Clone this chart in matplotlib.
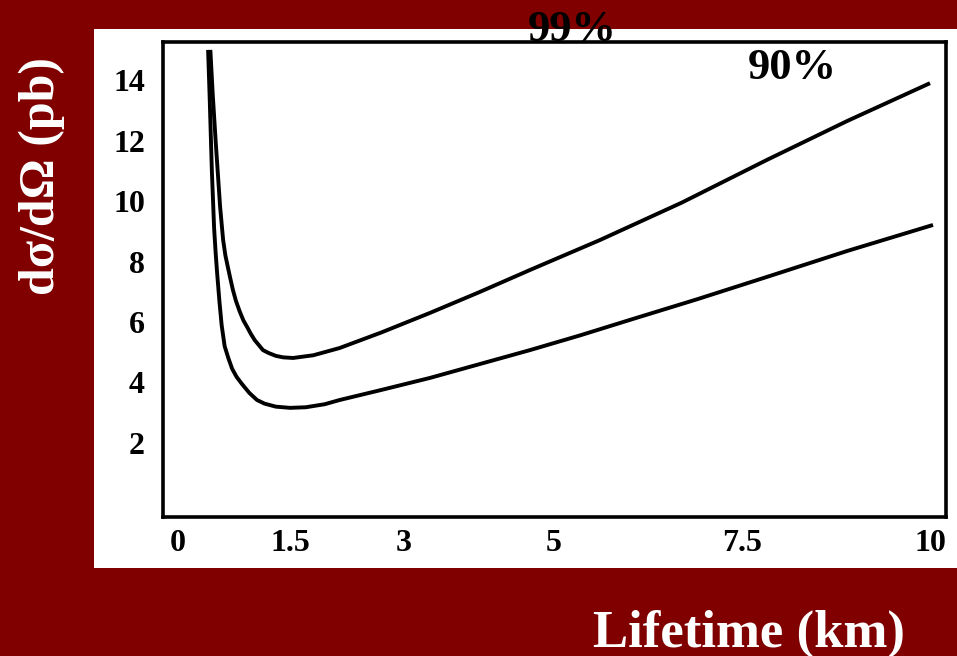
"""Lifetime dependence of the d(sigma)/d(Omega) limits at 90% and 99% CL."""

import matplotlib

matplotlib.use("Agg")
import matplotlib.pyplot as plt
from matplotlib.patches import Rectangle

# limit curves
lifetime_99 = [0.43, 0.46, 0.50, 0.53, 0.56, 0.60, 0.63, 0.69, 0.73, 0.77, 0.82, 0.87,
               0.92, 0.97, 1.02, 1.07, 1.13, 1.20, 1.30, 1.40, 1.53, 1.80, 2.15, 2.70,
               3.35, 4.00, 4.68, 5.61, 6.70, 7.83, 8.90, 10.0]
limit_99 = [15.0, 13.6, 12.0, 10.9, 9.8, 8.71, 8.2, 7.5, 7.06, 6.7, 6.35, 6.05,
            5.83, 5.6, 5.40, 5.25, 5.07, 4.98, 4.88, 4.83, 4.81, 4.90, 5.14, 5.65,
            6.30, 6.98, 7.72, 8.71, 9.95, 11.36, 12.65, 13.9]

lifetime_90 = [0.40, 0.42, 0.45, 0.48, 0.50, 0.52, 0.55, 0.58, 0.62, 0.67, 0.72, 0.78,
               0.85, 0.95, 1.05, 1.15, 1.30, 1.49, 1.70, 1.95, 2.15, 2.70, 3.35, 4.00,
               4.68, 5.35, 6.01, 6.90, 7.83, 8.90, 10.04]
limit_90 = [15.0, 13.5, 11.0, 9.1, 8.3, 7.62, 6.7, 5.9, 5.2, 4.8, 4.45, 4.18,
            3.95, 3.65, 3.42, 3.30, 3.20, 3.16, 3.18, 3.28, 3.42, 3.75, 4.15, 4.60,
            5.07, 5.56, 6.07, 6.75, 7.49, 8.35, 9.21]

x_ticks = [0, 1.5, 3, 5, 7.5, 10]
x_tick_labels = ["0", "1.5", "3", "5", "7.5", "10"]
y_ticks = [2, 4, 6, 8, 10, 12, 14]

BACKGROUND = "#800000"
SERIF = ["Liberation Serif", "DejaVu Serif"]

plt.rcParams["font.family"] = SERIF

fig = plt.figure(figsize=(9.57, 6.56), dpi=100, facecolor=BACKGROUND)

# white panel behind the plot
fig.patches.append(
    Rectangle((0.0982, 0.134), 0.902, 0.822, transform=fig.transFigure,
              facecolor="white", edgecolor="none", zorder=-1)
)

ax = fig.add_axes([0.1703, 0.2119, 0.818, 0.724], zorder=1)
ax.set_facecolor("white")
ax.plot(lifetime_99, limit_99, color="black", linewidth=2.8, solid_capstyle="butt")
ax.plot(lifetime_90, limit_90, color="black", linewidth=2.8, solid_capstyle="butt")

ax.set_xlim(-0.2, 10.21)
ax.set_ylim(-0.45, 15.26)
ax.set_xticks(x_ticks)
ax.set_xticklabels(x_tick_labels)
ax.set_yticks(y_ticks)
ax.tick_params(length=0, labelsize=23, pad=9)
ax.tick_params(axis="y", pad=13)
for label in ax.get_xticklabels() + ax.get_yticklabels():
    label.set_fontweight("bold")
for spine in ax.spines.values():
    spine.set_linewidth(2.6)
    spine.set_color("black")

fig.text(0.5977, 0.938, "99%", ha="center", va="baseline", fontsize=32,
         fontweight="bold", color="black", zorder=2)
fig.text(0.8276, 0.879, "90%", ha="center", va="baseline", fontsize=32,
         fontweight="bold", color="black", zorder=2)

fig.text(0.0439, 0.732, "dσ/dΩ (pb)", rotation=90, ha="center", va="center",
         fontsize=36, fontweight="bold", color="white")
fig.text(0.7826, 0.0137, "Lifetime (km)", ha="center", va="baseline",
         fontsize=38, fontweight="bold", color="white")

fig.savefig("out.png", dpi=100, facecolor=BACKGROUND)
